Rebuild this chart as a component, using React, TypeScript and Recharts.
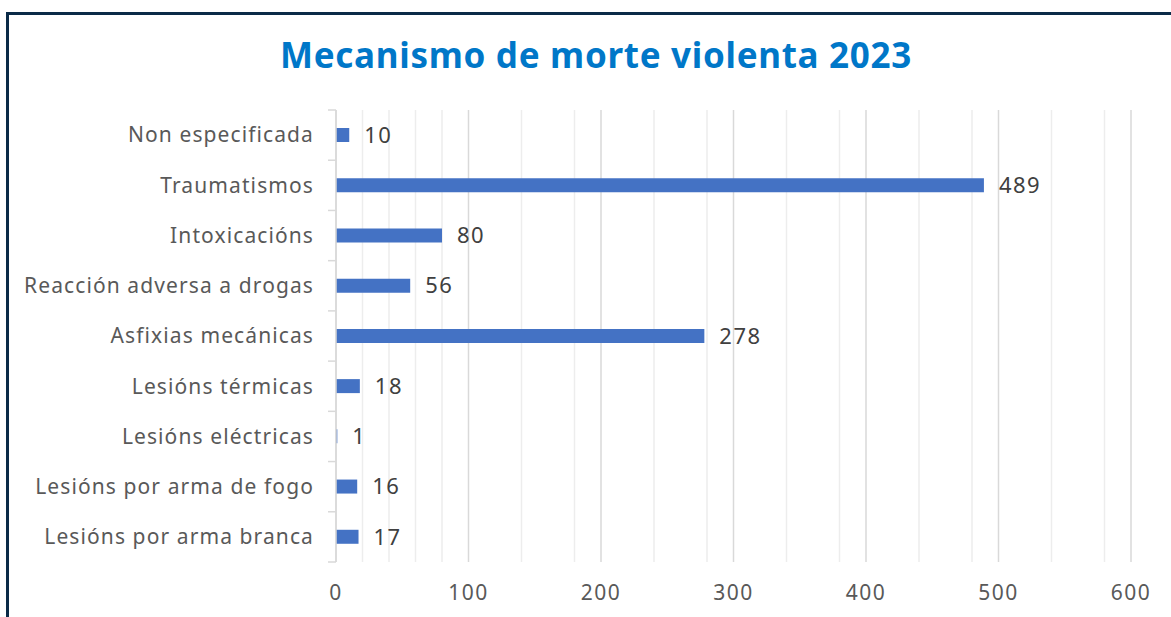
import React from "react";
import { BarChart, Bar, XAxis, YAxis, CartesianGrid, LabelList } from "recharts";

const categories = [
  "Non especificada",
  "Traumatismos",
  "Intoxicacións",
  "Reacción adversa a drogas",
  "Asfixias mecánicas",
  "Lesións térmicas",
  "Lesións eléctricas",
  "Lesións por arma de fogo",
  "Lesións por arma branca",
];
const values = [10, 489, 80, 56, 278, 18, 1, 16, 17];
const majorTicks = [0, 100, 200, 300, 400, 500, 600];
const minorTicks = [20, 40, 60, 80, 120, 140, 160, 180, 220, 240, 260, 280, 320, 340, 360, 380, 420, 440, 460, 480, 520, 540, 560, 580];

const data = categories.map((name, i) => ({ name, value: values[i] }));

const FONT = "'Noto Sans', sans-serif";
const last = categories[categories.length - 1];

const CatTick = (props: any) => {
  const { x, y, payload } = props;
  const off = payload.offset ?? 0;
  return (
    <g>
      <line x1={x + 14} x2={x + 22} y1={y - off} y2={y - off} stroke="#d9d9d9" strokeWidth={1.5} />
      {payload.value === last && (
        <line x1={x + 14} x2={x + 22} y1={y + off} y2={y + off} stroke="#d9d9d9" strokeWidth={1.5} />
      )}
      <text x={x} y={y} dy="0.35em" textAnchor="end" fill="#595959" fontSize={21} letterSpacing={1.1} fontFamily={FONT}>
        {payload.value}
      </text>
    </g>
  );
};

export default function App() {
  return (
    <div style={{ position: "absolute", left: 0, top: 0, width: 1171, height: 617, background: "#fff", overflow: "hidden" }}>
      <div
        style={{
          position: "absolute",
          left: 6,
          top: 12,
          width: 1300,
          height: 700,
          borderLeft: "3px solid #0a2a47",
          borderTop: "3px solid #0a2a47",
          boxSizing: "border-box",
        }}
      />
      <div
        style={{
          position: "absolute",
          left: 0,
          top: 31,
          width: 1192,
          textAlign: "center",
          fontFamily: FONT,
          fontWeight: 700,
          fontSize: 35,
          letterSpacing: 0.7,
          color: "#0077c8",
          lineHeight: "48px",
        }}
      >
        Mecanismo de morte violenta 2023
      </div>
      <div style={{ position: "absolute", left: 0, top: 0 }}>
        <BarChart
          width={1171}
          height={617}
          data={data}
          layout="vertical"
          margin={{ top: 110, right: 40, bottom: 25, left: 0 }}
        >
          <CartesianGrid horizontal={false} vertical={true} verticalValues={minorTicks} stroke="#ededed" strokeWidth={1.5} />
          <CartesianGrid horizontal={false} vertical={true} stroke="#d9d9d9" strokeWidth={1.5} />
          <XAxis
            type="number"
            domain={[0, 600]}
            ticks={majorTicks}
            axisLine={false}
            tickLine={false}
            tickMargin={17}
            tick={{ fill: "#595959", fontSize: 21, letterSpacing: 1.5, fontFamily: FONT }}
            height={30}
          />
          <YAxis
            type="category"
            dataKey="name"
            width={336}
            axisLine={{ stroke: "#d9d9d9", strokeWidth: 1.5 }}
            tickLine={false}
            tick={<CatTick />}
            tickMargin={16}
            interval={0}
          />
          <Bar dataKey="value" fill="#4472c4" barSize={14} isAnimationActive={false}>
            <LabelList dataKey="value" position="right" offset={15} fill="#404040" fontSize={22} letterSpacing={1.5} fontFamily={FONT} />
          </Bar>
        </BarChart>
      </div>
    </div>
  );
}
